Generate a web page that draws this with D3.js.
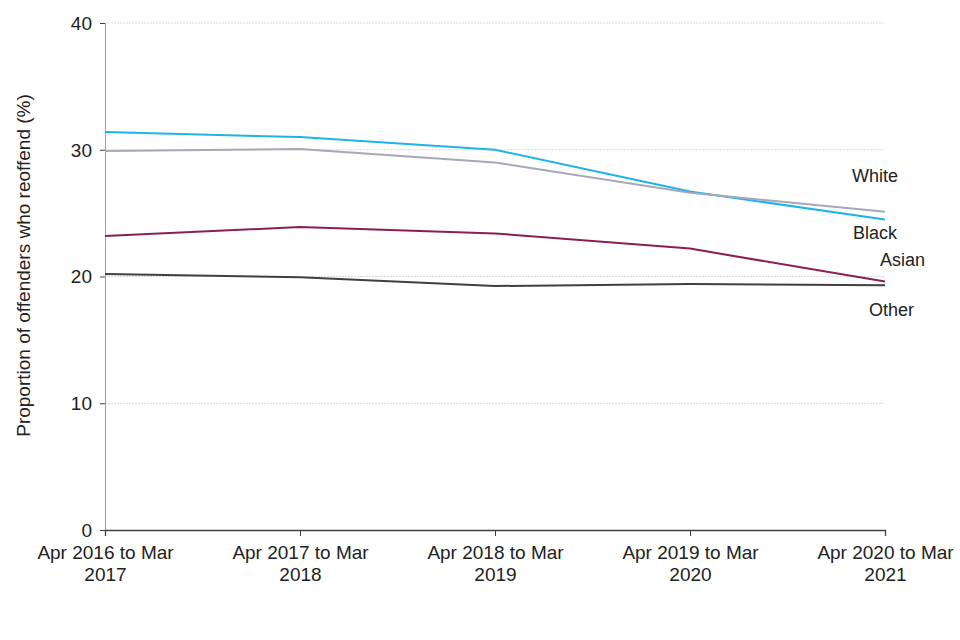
<!DOCTYPE html>
<html>
<head>
<meta charset="utf-8">
<script src="https://cdn.jsdelivr.net/npm/d3@7.9.0/dist/d3.min.js"></script>
<style>
  body { margin: 0; background: #fff; }
  svg { font-family: "Liberation Sans", Arial, sans-serif; }
</style>
</head>
<body>
<svg id="chart" width="960" height="640"></svg>
<script>
const periods = ['Apr 2016 to Mar 2017', 'Apr 2017 to Mar 2018', 'Apr 2018 to Mar 2019', 'Apr 2019 to Mar 2020', 'Apr 2020 to Mar 2021'];
const white = [31.4, 31.0, 30.0, 26.7, 24.5];
const black = [29.9, 30.05, 29.0, 26.6, 25.1];
const asian = [23.2, 23.9, 23.4, 22.2, 19.6];
const other = [20.2, 19.95, 19.25, 19.4, 19.3];
const yTicks = [0, 10, 20, 30, 40];

const series = [
  { name: 'White', values: white, color: '#1cb4e8' },
  { name: 'Black', values: black, color: '#a7a7ba' },
  { name: 'Asian', values: asian, color: '#8a1f58' },
  { name: 'Other', values: other, color: '#404040' }
];

// where the end labels sit (value on y axis, pixel nudge from last point)
const labelSpots = { White: [27.47, -33], Black: [22.97, -32], Asian: [20.84, -5], Other: [16.89, -16] };

const margin = { top: 23, right: 75, bottom: 110, left: 105 };
const width = 960 - margin.left - margin.right;
const height = 640 - margin.top - margin.bottom;

const svg = d3.select('#chart');
const g = svg.append('g').attr('transform', `translate(${margin.left},${margin.top})`);

const x = d3.scalePoint().domain(periods).range([0, width]);
const y = d3.scaleLinear().domain([0, 40]).range([height, 0]);

// gridlines
g.selectAll('.grid')
  .data(yTicks.filter(d => d > 0))
  .join('line')
  .attr('x1', 0).attr('x2', width)
  .attr('y1', d => y(d)).attr('y2', d => y(d))
  .attr('stroke', '#d9d9d9')
  .attr('stroke-dasharray', '2,1');

// y axis
const yAxis = g.append('g').call(d3.axisLeft(y).tickValues(yTicks).tickSize(5).tickPadding(8));
yAxis.select('.domain').attr('stroke', '#a0a0a0');
yAxis.selectAll('.tick line').attr('stroke', '#404040');
yAxis.selectAll('text').attr('font-size', 19).attr('fill', '#222').attr('dy', '0.34em');

// x axis
const xAxis = g.append('g')
  .attr('transform', `translate(0,${height})`)
  .call(d3.axisBottom(x).tickSize(6).tickPadding(5));
xAxis.select('.domain').attr('stroke', '#404040').attr('stroke-width', 1.3);
xAxis.selectAll('.tick line').attr('stroke', '#404040');
xAxis.selectAll('.tick text').each(function(d) {
  const t = d3.select(this).text(null).attr('font-size', 19).attr('fill', '#222');
  const i = d.lastIndexOf(' ');
  t.append('tspan').attr('x', 0).attr('dy', '0.95em').text(d.slice(0, i));
  t.append('tspan').attr('x', 0).attr('dy', '1.15em').text(d.slice(i + 1));
});

// lines
const line = d3.line().x((d, i) => x(periods[i])).y(d => y(d));
g.selectAll('.series')
  .data(series)
  .join('path')
  .attr('fill', 'none')
  .attr('stroke', d => d.color)
  .attr('stroke-width', 2)
  .attr('d', d => line(d.values));

// end labels
g.selectAll('.lbl')
  .data(series)
  .join('text')
  .attr('x', d => x(periods[periods.length - 1]) + labelSpots[d.name][1])
  .attr('y', d => y(labelSpots[d.name][0]))
  .attr('font-size', 18)
  .attr('fill', '#222')
  .text(d => d.name);

// y title
svg.append('text')
  .attr('transform', `translate(30,${margin.top + height / 2 - 11}) rotate(-90)`)
  .attr('text-anchor', 'middle')
  .attr('font-size', 19)
  .attr('fill', '#222')
  .text('Proportion of offenders who reoffend (%)');
</script>
</body>
</html>
